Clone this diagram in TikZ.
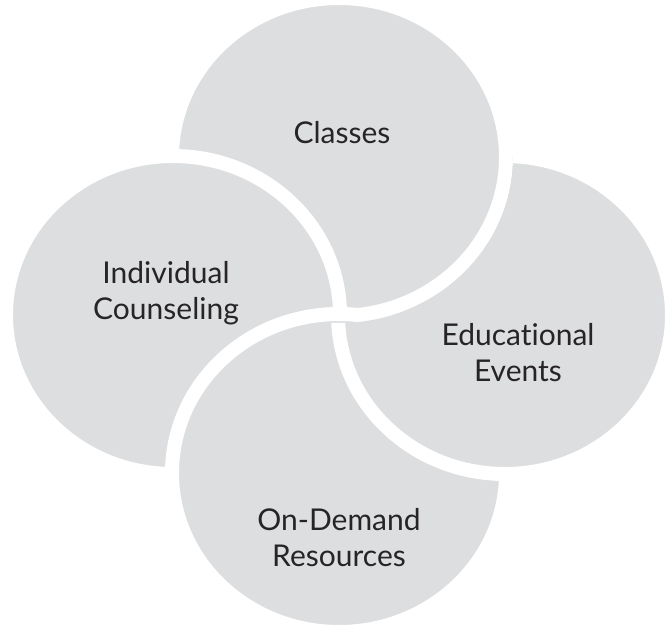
\documentclass[tikz,border=0pt]{standalone}
\usepackage{fontspec}
\setmainfont{Lato}[Ligatures=CommonOff]
\definecolor{blobgray}{RGB}{221,222,224}
\definecolor{inkgray}{RGB}{38,36,38}

\begin{document}
\begin{tikzpicture}[x=1pt, y=-1pt,
	blob_style/.style={fill=blobgray, draw=white, line width=14pt},
	label_style/.style={text=inkgray, align=center, font=\fontsize{30}{36}\selectfont}]
	\def\rx{167pt}
	\def\ry{159pt}
	\useasboundingbox (0,0) rectangle (665,627);
	\coordinate (classes) at (339,157);
	\coordinate (counseling) at (173,315);
	\coordinate (events) at (505,315);
	\coordinate (resources) at (339,473);
	% pinwheel: events under classes under counseling under resources
	\draw[blob_style] (events) ellipse[x radius=\rx, y radius=\ry];
	\draw[blob_style] (classes) ellipse[x radius=\rx, y radius=\ry];
	\draw[blob_style] (counseling) ellipse[x radius=\rx, y radius=\ry];
	\draw[blob_style] (resources) ellipse[x radius=\rx, y radius=\ry];
	% events goes back over resources, but stays under classes
	\begin{scope}[even odd rule]
		\clip (300,0) rectangle (700,700)
			(classes) ellipse[x radius=174pt, y radius=166pt];
		\draw[blob_style] (events) ellipse[x radius=\rx, y radius=\ry];
	\end{scope}
	\node[label_style] (classes_text) at (342,133) {Classes};
	\node[label_style] (counseling_text) at (166,293) {Individual\\Counseling};
	\node[label_style] (events_text) at (518,353) {Educational\\Events};
	\node[label_style] (resources_text) at (339,538) {On-Demand\\Resources};
\end{tikzpicture}
\end{document}
